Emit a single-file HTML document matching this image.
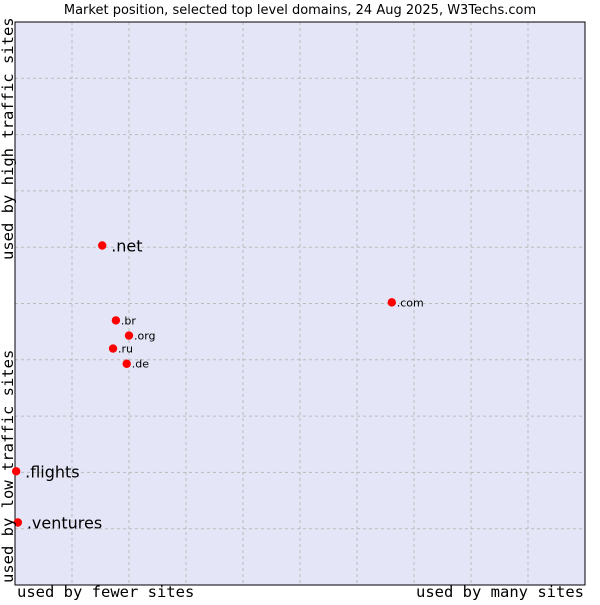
<!DOCTYPE html>
<html><head><meta charset="utf-8"><style>
body{margin:0;background:#fff;}
svg text{font-family:"DejaVu Sans","Liberation Sans",sans-serif;}
.mono{font-family:"DejaVu Sans Mono","Liberation Mono",monospace;}
</style></head><body>
<svg width="600" height="600" viewBox="0 0 600 600">
<script>
const labels=[".net",".com",".br",".org",".ru",".de",".flights",".ventures"];
const xs=[1.53,6.61,1.77,2.0,1.72,1.96,0.02,0.05];
const ys=[6.03,5.02,4.7,4.43,4.2,3.93,2.02,1.11];
const big=[true,false,false,false,false,false,true,true];
</script>
<text x="300" y="14" text-anchor="middle" font-size="13" fill="#000">Market position, selected top level domains, 24 Aug 2025, W3Techs.com</text>
<rect x="15" y="22" width="570" height="563" fill="#e4e5f7"/>
<g id="grid"></g>
<rect x="15" y="22" width="570" height="563" fill="none" stroke="#000" stroke-width="1"/>
<g id="pts"></g>
<text class="mono" x="17" y="597" font-size="15.5">used by fewer sites</text>
<text class="mono" x="584" y="597" font-size="15.5" text-anchor="end">used by many sites</text>
<text class="mono" transform="translate(13,583) rotate(-90)" font-size="15.5">used by low traffic sites</text>
<text class="mono" transform="translate(13,260) rotate(-90)" font-size="15.5">used by high traffic sites</text>
<script>
const NS="http://www.w3.org/2000/svg";
const X0=15,X1=585,Y0=585,Y1=22;
const sx=v=>X0+v*(X1-X0)/10, sy=v=>Y0-v*(Y0-Y1)/10;
const g=document.getElementById('grid');
for(let i=1;i<10;i++){
  const v=document.createElementNS(NS,'line');
  
  
  v.setAttribute('x1',sx(i));v.setAttribute('x2',sx(i));v.setAttribute('y1',Y1);v.setAttribute('y2',Y0);
  v.setAttribute('stroke','#bbbbbb');v.setAttribute('stroke-dasharray','3,3');g.appendChild(v);
  const h=document.createElementNS(NS,'line');
  
  
  h.setAttribute('x1',X0);h.setAttribute('x2',X1);h.setAttribute('y1',sy(i));h.setAttribute('y2',sy(i));
  h.setAttribute('stroke','#bbbbbb');h.setAttribute('stroke-dasharray','3,3');g.appendChild(h);
}
const p=document.getElementById('pts');
labels.forEach((l,i)=>{
  const x=sx(xs[i]),y=sy(ys[i]);
  const c=document.createElementNS(NS,'circle');
  
  
  c.setAttribute('cx',x);c.setAttribute('cy',y);c.setAttribute('r',4.2);c.setAttribute('fill','#ff0000');
  p.appendChild(c);
  const t=document.createElementNS(NS,'text');
  
  
  t.setAttribute('x',x+(big[i]?9:5));t.setAttribute('y',y+(big[i]?6:4));
  t.setAttribute('font-size',big[i]?16:11);t.setAttribute('fill','#000');
  t.textContent=l;p.appendChild(t);
});
</script>
</svg>
</body></html>
